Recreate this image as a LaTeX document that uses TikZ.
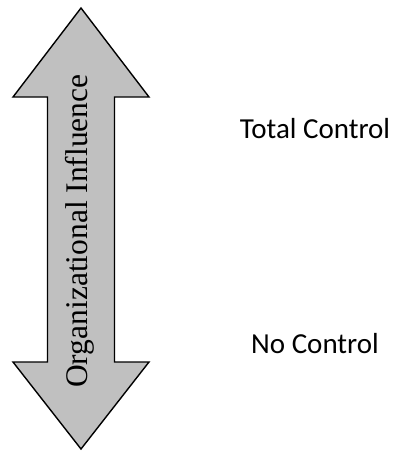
\documentclass[tikz,border=0pt]{standalone}
\usepackage{fontspec}
\setmainfont{Liberation Serif}
\newfontfamily\calfont{Carlito}
\usetikzlibrary{calc,positioning}

\begin{document}
\begin{tikzpicture}[x=1pt,y=-1pt,line join=miter,
  level/.style={font=\calfont\fontsize{29}{34}\selectfont,inner sep=0pt},
  axis/.style={font=\fontsize{31.5}{36}\selectfont,inner sep=0pt,rotate=90,anchor=base west}]
\useasboundingbox (0,0) rectangle (394,451);
\coordinate (top) at (81,8);
\coordinate (bot) at (81,449);
\fill[fill={rgb,255:red,192;green,192;blue,192},draw=black,line width=1.4pt]
  (top) -- ($(top)+(68,89)$) -- ($(top)+(33.5,89)$) -- ($(bot)+(33.5,-87)$)
  -- ($(bot)+(68,-87)$) -- (bot) -- ($(bot)+(-68,-87)$) -- ($(bot)+(-33.5,-87)$)
  -- ($(top)+(-33.5,89)$) -- ($(top)+(-68,89)$) -- cycle;
\node[axis] (infl) at (87,388) {Organizational Influence};
\node[level,anchor=base] (total) at (315,138.3) {Total Control};
\node[level,below=215pt of total.base,anchor=base] (none) {No Control};
\end{tikzpicture}
\end{document}
